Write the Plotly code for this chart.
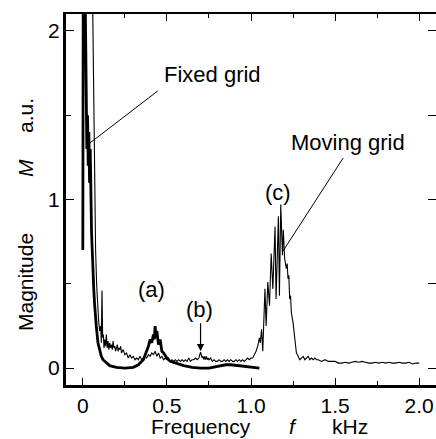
import plotly.graph_objects as go

# ---------------- data ----------------
fixed_f = [0.000, 0.003, 0.010, 0.016, 0.020, 0.024, 0.028, 0.032, 0.036, 0.040, 0.044, 0.048,
           0.052, 0.056, 0.060, 0.065, 0.070, 0.075, 0.080, 0.090, 0.100, 0.110, 0.120, 0.140,
           0.160, 0.200, 0.250, 0.300, 0.330, 0.360, 0.380, 0.390, 0.400, 0.410, 0.420, 0.425,
           0.430, 0.435, 0.440, 0.450, 0.460, 0.470, 0.480, 0.500, 0.520, 0.550, 0.600, 0.650,
           0.700, 0.750, 0.800, 0.850, 0.880, 0.920, 0.970, 1.000, 1.050]
fixed_m = [0.70, 2.60, 2.60, 2.00, 1.45, 1.30, 1.50, 1.20, 1.40, 1.10, 1.30, 0.95,
           0.80, 0.70, 0.55, 0.47, 0.38, 0.30, 0.25, 0.15, 0.10, 0.07, 0.05, 0.03,
           0.015, 0.005, 0.000, 0.005, 0.02, 0.05, 0.10, 0.13, 0.17, 0.15, 0.20, 0.17,
           0.25, 0.18, 0.22, 0.14, 0.17, 0.10, 0.09, 0.06, 0.04, 0.03, 0.015, 0.005,
           0.000, 0.000, 0.010, 0.020, 0.020, 0.015, 0.010, 0.005, 0.000]

moving_f = [0.000, 0.010, 0.020, 0.030, 0.040, 0.050, 0.058, 0.064, 0.070, 0.076, 0.082, 0.088,
            0.094, 0.100, 0.106, 0.110, 0.114, 0.118, 0.122, 0.126, 0.130, 0.135, 0.140, 0.145,
            0.150, 0.155, 0.160, 0.165, 0.170, 0.175, 0.180, 0.185, 0.190, 0.195, 0.200, 0.205,
            0.210, 0.215, 0.220, 0.225, 0.230, 0.240, 0.250, 0.260, 0.270, 0.280, 0.290, 0.300,
            0.310, 0.320, 0.330, 0.340, 0.350, 0.360, 0.370, 0.380, 0.390, 0.400, 0.410, 0.420,
            0.430, 0.440, 0.450, 0.460, 0.470, 0.480, 0.490, 0.500, 0.510, 0.520, 0.530, 0.540,
            0.550, 0.560, 0.570, 0.580, 0.590, 0.600, 0.610, 0.620, 0.630, 0.640, 0.650, 0.660,
            0.670, 0.680, 0.690, 0.700, 0.705, 0.710, 0.715, 0.720, 0.725, 0.730, 0.735, 0.740,
            0.745, 0.750, 0.760, 0.770, 0.780, 0.790, 0.800, 0.810, 0.820, 0.830, 0.840, 0.850,
            0.860, 0.870, 0.880, 0.890, 0.900, 0.910, 0.920, 0.930, 0.940, 0.950, 0.960, 0.970,
            0.980, 0.990, 1.000, 1.010, 1.020, 1.030, 1.040, 1.050, 1.055, 1.063, 1.070, 1.076,
            1.083, 1.090, 1.100, 1.110, 1.120, 1.130, 1.143, 1.149, 1.163, 1.169, 1.177, 1.187,
            1.192, 1.200, 1.210, 1.215, 1.220, 1.225, 1.230, 1.235, 1.240, 1.250, 1.260, 1.265,
            1.270, 1.280, 1.290, 1.300, 1.310, 1.320, 1.330, 1.340, 1.350, 1.360, 1.370, 1.380,
            1.390, 1.400, 1.420, 1.440, 1.460, 1.480, 1.500, 1.520, 1.540, 1.560, 1.580, 1.600,
            1.620, 1.640, 1.660, 1.680, 1.700, 1.720, 1.740, 1.760, 1.780, 1.800, 1.820, 1.840,
            1.860, 1.880, 1.900, 1.920, 1.940, 1.960, 1.980, 2.000]
moving_m = [2.60, 2.80, 2.70, 2.60, 2.50, 2.40, 2.20, 1.60, 1.00, 0.70, 0.50, 0.35,
            0.28, 0.22, 0.25, 0.15, 0.46, 0.18, 0.20, 0.12, 0.17, 0.13, 0.20, 0.12,
            0.16, 0.11, 0.15, 0.12, 0.14, 0.11, 0.16, 0.12, 0.13, 0.10, 0.12, 0.14,
            0.10, 0.12, 0.11, 0.13, 0.09, 0.11, 0.08, 0.09, 0.06, 0.08, 0.06, 0.07,
            0.05, 0.06, 0.05, 0.07, 0.05, 0.06, 0.07, 0.06, 0.08, 0.07, 0.09, 0.08,
            0.10, 0.07, 0.09, 0.06, 0.07, 0.05, 0.06, 0.05, 0.06, 0.04, 0.05, 0.04,
            0.05, 0.04, 0.05, 0.04, 0.05, 0.04, 0.05, 0.04, 0.06, 0.04, 0.05, 0.05,
            0.06, 0.05, 0.06, 0.095, 0.07, 0.06, 0.07, 0.05, 0.07, 0.05, 0.07, 0.05,
            0.06, 0.05, 0.06, 0.04, 0.05, 0.04, 0.04, 0.05, 0.04, 0.04, 0.05, 0.04,
            0.05, 0.04, 0.05, 0.04, 0.04, 0.05, 0.04, 0.05, 0.04, 0.05, 0.04, 0.05,
            0.06, 0.05, 0.06, 0.06, 0.08, 0.10, 0.13, 0.18, 0.15, 0.23, 0.10, 0.35,
            0.47, 0.25, 0.51, 0.37, 0.68, 0.47, 0.84, 0.41, 0.90, 0.43, 0.97, 0.67,
            0.82, 0.65, 0.59, 0.62, 0.53, 0.55, 0.41, 0.43, 0.33, 0.27, 0.19, 0.12,
            0.09, 0.07, 0.05, 0.06, 0.07, 0.05, 0.06, 0.07, 0.05, 0.06, 0.05, 0.06,
            0.05, 0.05, 0.04, 0.05, 0.04, 0.04, 0.04, 0.03, 0.03, 0.035, 0.03, 0.035,
            0.04, 0.035, 0.04, 0.035, 0.03, 0.03, 0.035, 0.03, 0.035, 0.03, 0.035, 0.03,
            0.03, 0.035, 0.03, 0.03, 0.035, 0.025, 0.03, 0.03]

x_ticks = [0, 0.5, 1.0, 1.5, 2.0]
x_ticklabels = ["0", "0.5", "1.0", "1.5", "2.0"]
y_ticks = [0, 1, 2]
y_ticklabels = ["0", "1", "2"]

# ---------------- figure ----------------
W, H = 436, 439
ML, MR, MT, MB = 66, 0, 14, 54
FONT = "Liberation Sans, Arial, Helvetica, sans-serif"


def paper(px, py):
    return (px - ML) / (W - ML - MR), (H - MB - py) / (H - MT - MB)


fig = go.Figure()
fig.add_trace(go.Scatter(x=moving_f, y=moving_m, mode="lines",
                         line=dict(color="black", width=1.1), showlegend=False))
fig.add_trace(go.Scatter(x=fixed_f, y=fixed_m, mode="lines",
                         line=dict(color="black", width=2.8), showlegend=False))

XR = [-0.1, 2.1]
YR = [-0.1, 2.1]
tickfont = dict(family=FONT, size=21, color="black")
axfont = dict(family=FONT, size=21, color="black")

fig.update_layout(
    width=W, height=H, margin=dict(l=ML, r=MR, t=MT, b=MB, pad=0),
    paper_bgcolor="white", plot_bgcolor="white",
    font=dict(family=FONT, color="black"),
    xaxis=dict(range=XR, showgrid=False, zeroline=False, showline=True, linewidth=3,
               linecolor="black", ticks="inside", ticklen=7, tickwidth=1.2, tickcolor="black",
               tickvals=x_ticks, ticktext=x_ticklabels, tickfont=tickfont, tickangle=0,
               minor=dict(tickvals=[0.25, 0.75, 1.25, 1.75], ticklen=4, tickwidth=1.2,
                          tickcolor="black", ticks="inside"),
               ticklabelstandoff=0),
    yaxis=dict(range=YR, showgrid=False, zeroline=False, showline=True, linewidth=3,
               linecolor="black", ticks="inside", ticklen=8, tickwidth=1.2, tickcolor="black",
               tickvals=y_ticks, ticktext=y_ticklabels, tickfont=tickfont, tickangle=0,
               minor=dict(tickvals=[0.5, 1.5], ticklen=5, tickwidth=1.2,
                          tickcolor="black", ticks="inside"),
               ticklabelstandoff=-1),
    xaxis2=dict(range=XR, overlaying="x", side="top", showgrid=False, zeroline=False,
                showline=True, linewidth=1.5, linecolor="black", ticks="inside",
                ticklen=7, tickwidth=1.2, tickcolor="black", tickvals=x_ticks,
                showticklabels=False,
                minor=dict(tickvals=[0.25, 0.75, 1.25, 1.75], ticklen=4, tickwidth=1.2,
                           tickcolor="black", ticks="inside")),
    yaxis2=dict(range=YR, overlaying="y", side="right", showgrid=False, zeroline=False,
                showline=False, ticks="inside", ticklen=8, tickwidth=1.2, tickcolor="black",
                tickvals=[0, 0.5, 1, 1.5, 2], showticklabels=False),
)
fig.add_trace(go.Scatter(x=[None], y=[None], xaxis="x2", yaxis="y2", showlegend=False,
                         hoverinfo="skip"))

# annotation leader lines (data coordinates)
fig.add_shape(type="line", x0=0.446, y0=1.644, x1=0.042, y1=1.335, xref="x", yref="y",
              line=dict(color="black", width=1))
fig.add_shape(type="line", x0=1.548, y0=1.246, x1=1.19, y1=0.694, xref="x", yref="y",
              line=dict(color="black", width=1))

lblfont = dict(family=FONT, size=22, color="black")
for txt, x, y in [("Fixed grid", 0.774, 1.739), ("Moving grid", 1.577, 1.341),
                  ("(c)", 1.161, 1.039), ("(a)", 0.41, 0.469), ("(b)", 0.696, 0.35)]:
    fig.add_annotation(x=x, y=y, xref="x", yref="y", text=txt, showarrow=False,
                       font=lblfont, xanchor="center", yanchor="middle")
fig.add_annotation(x=0.70, y=0.10, ax=0.70, ay=0.275, xref="x", yref="y", axref="x", ayref="y",
                   text="", showarrow=True, arrowhead=2, arrowsize=1.2, arrowwidth=1.2,
                   arrowcolor="black")

# axis titles
for txt, px, py, italic in [("Frequency", 201, 426, False), ("f", 293, 426, True),
                            ("kHz", 350, 426, False)]:
    x, y = paper(px, py)
    fig.add_annotation(x=x, y=y, xref="paper", yref="paper", showarrow=False,
                       xanchor="center", yanchor="middle",
                       text=f"<i>{txt}</i>" if italic else txt, font=axfont)
for txt, px, py, italic in [("Magnitude", 25, 282, False), ("M", 25, 168, True),
                            ("a.u.", 25, 116, False)]:
    x, y = paper(px, py)
    fig.add_annotation(x=x, y=y, xref="paper", yref="paper", showarrow=False, textangle=-90,
                       xanchor="center", yanchor="middle",
                       text=f"<i>{txt}</i>" if italic else txt, font=axfont)

fig.write_html("out.html")
